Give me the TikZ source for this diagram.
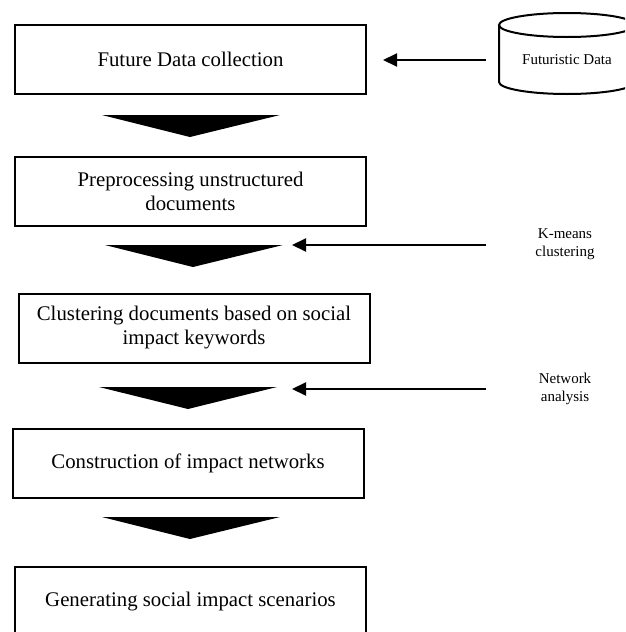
\documentclass[tikz,border=0pt]{standalone}
\usepackage{fontspec}
\setmainfont{Liberation Serif}
\usetikzlibrary{arrows.meta}
\begin{document}
\begin{tikzpicture}[x=1pt,y=-1pt,
  box/.style={draw,line width=2pt,minimum width=351pt,minimum height=69pt,align=center,inner sep=0pt,font=\fontsize{20.8}{24}\selectfont},
  lbl/.style={align=center,inner sep=0pt,font=\fontsize{15}{18}\selectfont},
  arr/.style={line width=2pt,-{Triangle[length=14pt,width=13pt]}},
  flow/.style={fill=black}]
\useasboundingbox (0,0) rectangle (625,632);
\clip (0,0) rectangle (625,632);

% process boxes
\node[box] (b1) at (190.5,59.5) {Future Data collection};
\node[box] (b2) at (190.5,191.5) {Preprocessing unstructured\\documents};
\node[box] (b3) at (194,328) {Clustering documents based on social\\impact keywords};
\node[box] (b4) at (188,463.5) {Construction of impact networks};
\node[box] (b5) at (190.5,601.5) {Generating social impact scenarios};

% flow triangles
\fill[flow] (102,115) -- (280,115) -- (190,137) -- cycle;
\fill[flow] (105,245) -- (283,245) -- (193,267) -- cycle;
\fill[flow] (99,387) -- (277,387) -- (188,409) -- cycle;
\fill[flow] (102,517) -- (280,517) -- (190,539) -- cycle;

% data store cylinder
\draw[line width=2pt] (499,25) -- (499,82)
  arc[start angle=180,end angle=360,x radius=68pt,y radius=12pt] -- (635,25);
\draw[line width=2pt] (567,25) ellipse[x radius=68pt,y radius=12pt];
\node[lbl] (cyl) at (567,60) {Futuristic Data};

% side labels
\node[lbl] (km) at (565,244) {K-means\\clustering};
\node[lbl] (na) at (565,389) {Network\\analysis};

% connectors
\coordinate (c1) at (486,60);
\coordinate (k1) at (486,245);
\coordinate (t2) at (292,245);
\coordinate (k2) at (486,389);
\coordinate (t3) at (292,389);
\draw[arr,shorten >=16pt] (c1) -- (c1 -| b1.east);
\draw[arr] (k1) -- (t2);
\draw[arr] (k2) -- (t3);
\end{tikzpicture}
\end{document}
